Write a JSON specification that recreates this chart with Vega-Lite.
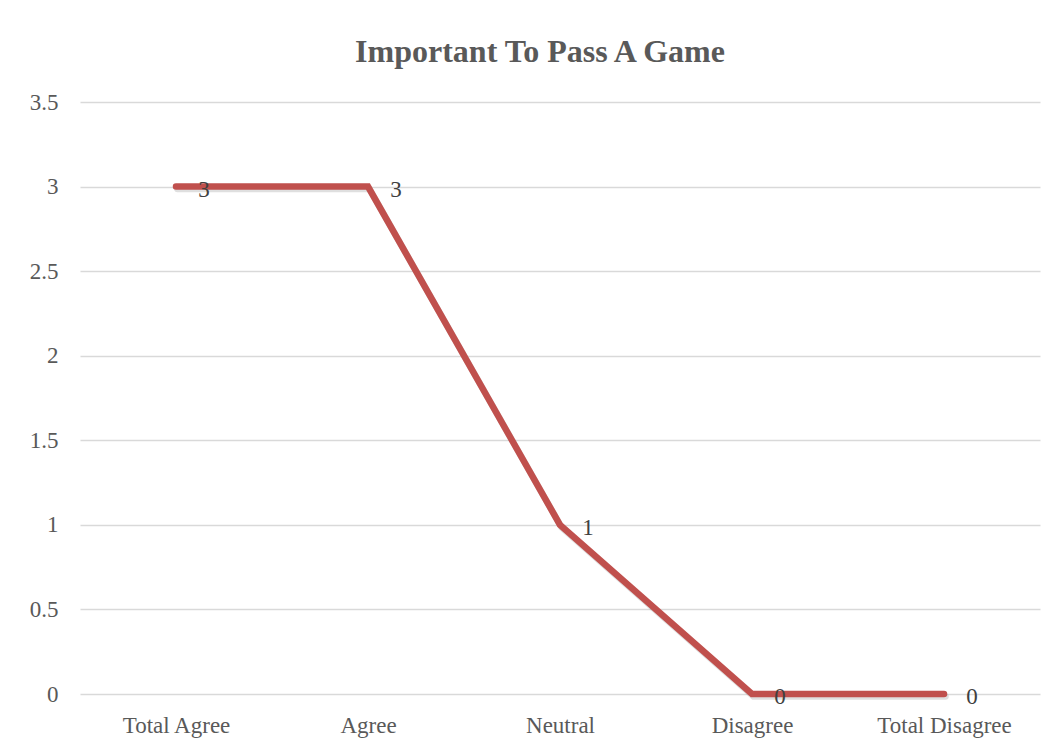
{
  "$schema": "https://vega.github.io/schema/vega-lite/v6.json",
  "width": 960,
  "height": 592,
  "autosize": {"type": "none"},
  "padding": {"left": 80, "top": 102, "right": 17, "bottom": 54},
  "background": "white",
  "title": {
    "text": "Important To Pass A Game",
    "font": "Liberation Serif",
    "fontSize": 32,
    "fontWeight": "bold",
    "color": "#595959",
    "anchor": "middle",
    "baseline": "bottom",
    "offset": -10,
    "dx": -20
  },
  "config": {
    "view": {"stroke": null},
    "axis": {
      "labelFont": "Liberation Serif",
      "labelFontSize": 23,
      "labelColor": "#595959",
      "ticks": false,
      "domain": false,
      "title": null,
      "gridColor": "#d9d9d9",
      "gridWidth": 1.5
    }
  },
  "data": {
    "values": [
      {"response": "Total Agree", "count": 3},
      {"response": "Agree", "count": 3},
      {"response": "Neutral", "count": 1},
      {"response": "Disagree", "count": 0},
      {"response": "Total Disagree", "count": 0}
    ]
  },
  "encoding": {
    "x": {
      "field": "response",
      "type": "ordinal",
      "sort": null,
      "scale": {"type": "point", "padding": 0.5},
      "axis": {"labelAngle": 0, "labelPadding": 20, "grid": false}
    },
    "y": {
      "field": "count",
      "type": "quantitative",
      "scale": {"domain": [0, 3.5]},
      "axis": {
        "values": [0, 0.5, 1, 1.5, 2, 2.5, 3, 3.5],
        "format": "~g",
        "labelPadding": 22,
        "grid": true
      }
    }
  },
  "layer": [
    {
      "mark": {
        "type": "line",
        "stroke": "#7f7f7f",
        "strokeWidth": 6.5,
        "strokeCap": "round",
        "opacity": 0.25,
        "xOffset": 1.5,
        "yOffset": 2.5
      }
    },
    {
      "mark": {
        "type": "line",
        "stroke": "#C0504D",
        "strokeWidth": 6.5,
        "strokeCap": "round",
        "strokeJoin": "miter"
      }
    },
    {
      "mark": {
        "type": "text",
        "font": "Liberation Serif",
        "fontSize": 23,
        "color": "#404040",
        "align": "center",
        "baseline": "middle",
        "dx": 28,
        "dy": 3
      },
      "encoding": {"text": {"field": "count", "type": "quantitative"}}
    }
  ]
}
